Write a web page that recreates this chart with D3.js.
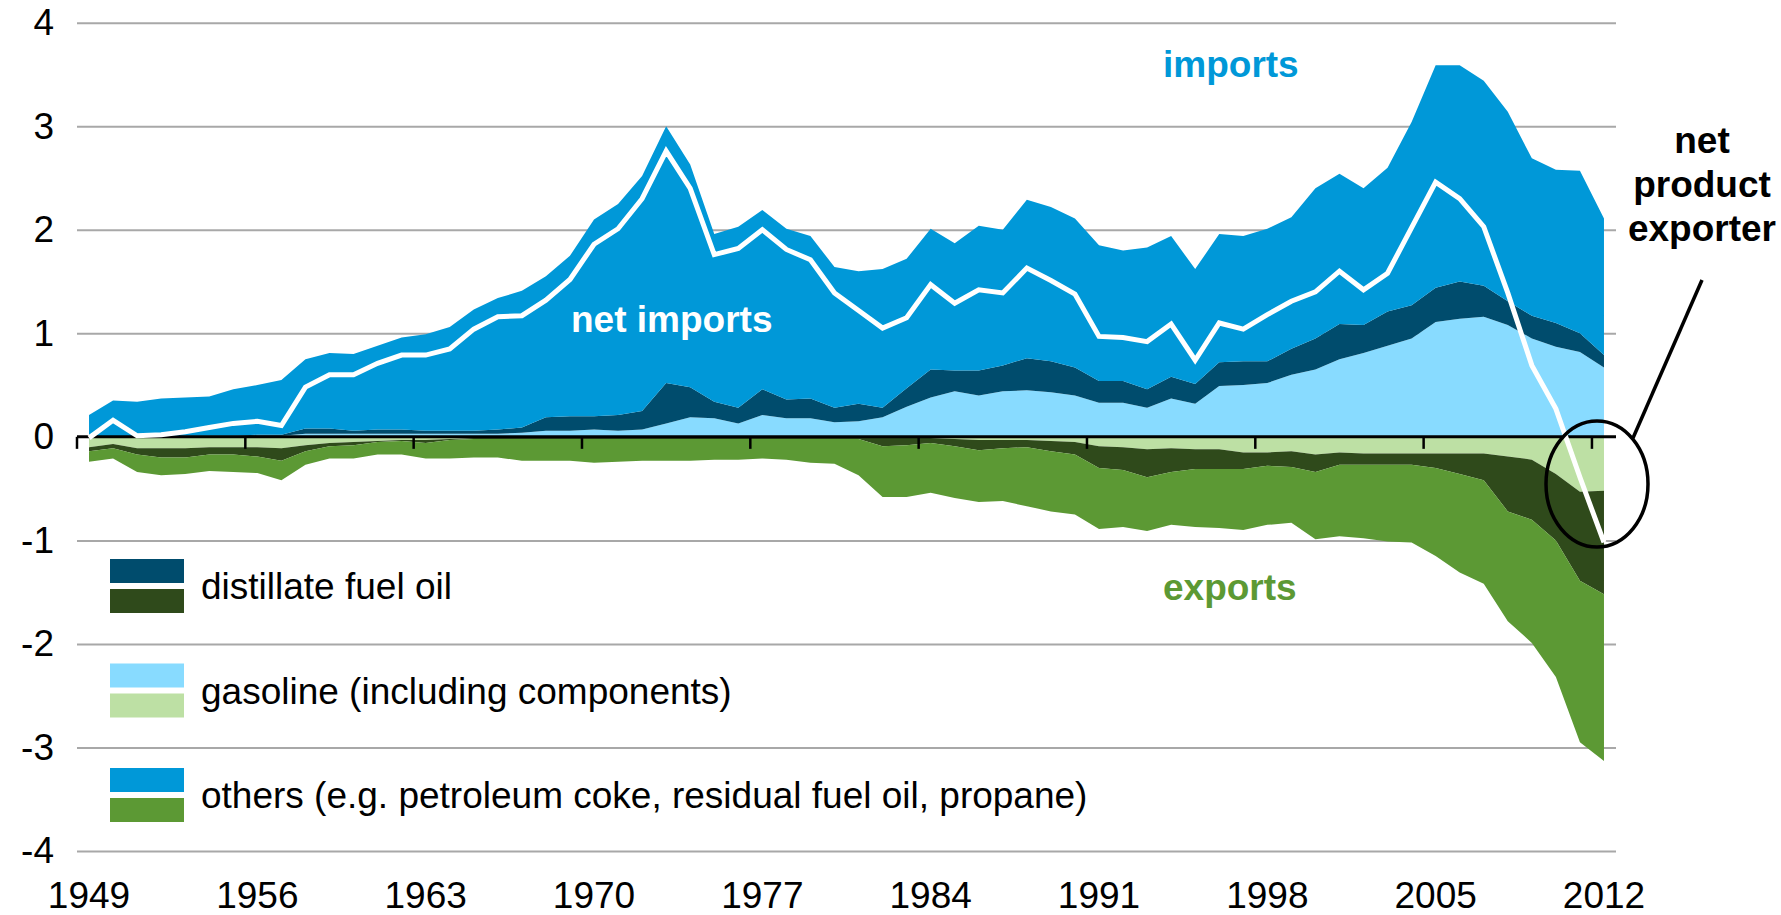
<!DOCTYPE html>
<meta charset="utf-8">
<style>
body { margin: 0; background: #fff; }
svg { display: block; font-family: "Liberation Sans", Arial, sans-serif; }

.grid line { stroke: #a8a8a8; stroke-width: 2px; }
.grid path, .axis path { display: none; }
.axis text { font-size: 37px; fill: #000; }

.net-line { fill: none; stroke: #fff; stroke-width: 5px; stroke-linejoin: miter; }
.note { font-size: 37px; font-weight: bold; }
.legend text { font-size: 37px; fill: #000; }
</style>
<svg width="1781" height="915"></svg>
<script src="https://d3js.org/d3.v7.min.js"></script>
<script>
// million barrels per day, 1949-2012
var years = d3.range(1949, 2013);
var labelYears = [1949, 1956, 1963, 1970, 1977, 1984, 1991, 1998, 2005, 2012];
var yTicks = [-4, -3, -2, -1, 0, 1, 2, 3, 4];

var gasolineImports = [0,0,0,0,0,0,0,0.01,0.01,0.03,0.03,0.03,0.03,0.03,0.03,0.03,0.03,0.03,0.04,0.06,0.06,
  0.07,0.06,0.07,0.13,0.19,0.18,0.13,0.21,0.18,0.18,0.14,0.15,0.19,0.29,0.38,0.44,0.40,0.44,0.45,0.43,0.40,
  0.33,0.33,0.28,0.37,0.32,0.49,0.50,0.52,0.60,0.65,0.75,0.81,0.88,0.95,1.11,1.14,1.16,1.08,0.95,0.87,0.82,0.67];
var distillateImports = [0,0,0,0,0.01,0.01,0.01,0.01,0.01,0.05,0.05,0.03,0.04,0.04,0.03,0.03,0.03,0.04,0.05,0.13,0.14,
  0.13,0.15,0.18,0.39,0.29,0.16,0.15,0.25,0.18,0.19,0.14,0.17,0.09,0.18,0.27,0.20,0.24,0.25,0.31,0.30,0.27,
  0.21,0.21,0.18,0.21,0.19,0.23,0.23,0.21,0.25,0.30,0.34,0.27,0.33,0.32,0.33,0.36,0.30,0.23,0.22,0.23,0.18,0.12];
var otherImports = [0.21,0.35,0.34,0.37,0.37,0.38,0.45,0.48,0.53,0.67,0.73,0.74,0.81,0.89,0.93,1.00,1.17,1.27,1.32,1.36,1.55,
  1.90,2.04,2.27,2.48,2.15,1.62,1.75,1.73,1.65,1.57,1.36,1.28,1.34,1.25,1.36,1.23,1.40,1.31,1.53,1.49,1.44,
  1.31,1.26,1.37,1.36,1.11,1.24,1.21,1.28,1.27,1.45,1.45,1.32,1.39,1.77,2.15,2.09,1.98,1.83,1.52,1.48,1.57,1.32];

var gasolineExports = [0.10,0.07,0.11,0.11,0.11,0.10,0.10,0.10,0.11,0.08,0.06,0.05,0.04,0.03,0.03,0.02,0.01,0.01,0.01,0.01,0.01,
  0.01,0.01,0.01,0.01,0.01,0.01,0.01,0.01,0.01,0.01,0.01,0.01,0.01,0.01,0.01,0.02,0.03,0.03,0.03,0.04,0.05,
  0.09,0.10,0.12,0.11,0.12,0.12,0.15,0.15,0.14,0.17,0.15,0.16,0.16,0.16,0.16,0.16,0.16,0.19,0.22,0.36,0.53,0.52];
var distillateExports = [0.04,0.04,0.06,0.09,0.09,0.07,0.07,0.09,0.12,0.06,0.03,0.03,0.01,0.01,0.03,0.01,0.01,0.01,0.01,0.01,0.01,
  0.01,0.01,0.01,0.01,0.01,0.01,0.01,0.01,0.01,0.01,0.01,0.01,0.08,0.07,0.05,0.07,0.10,0.08,0.07,0.10,0.12,
  0.21,0.22,0.27,0.23,0.19,0.19,0.16,0.13,0.15,0.17,0.12,0.11,0.11,0.11,0.14,0.20,0.26,0.53,0.58,0.64,0.86,1.00];
var otherExports = [0.10,0.10,0.17,0.17,0.16,0.16,0.17,0.16,0.19,0.13,0.12,0.13,0.12,0.13,0.15,0.18,0.18,0.18,0.21,0.21,0.21,
  0.23,0.22,0.21,0.21,0.21,0.20,0.20,0.19,0.20,0.23,0.24,0.35,0.49,0.50,0.48,0.50,0.50,0.51,0.57,0.58,0.58,
  0.59,0.55,0.52,0.51,0.56,0.57,0.59,0.57,0.54,0.65,0.69,0.71,0.74,0.75,0.85,0.95,1.00,1.06,1.19,1.32,1.56,1.61];

var netImports = [-0.01,0.16,0.01,0.02,0.05,0.09,0.13,0.15,0.11,0.48,0.60,0.60,0.71,0.79,0.79,0.85,1.04,1.16,1.17,1.32,1.52,
  1.86,2.01,2.30,2.76,2.40,1.76,1.82,2.00,1.81,1.71,1.39,1.22,1.05,1.15,1.47,1.29,1.42,1.39,1.63,1.51,1.38,
  0.97,0.96,0.92,1.09,0.74,1.10,1.04,1.18,1.31,1.40,1.60,1.42,1.58,2.02,2.46,2.30,2.03,1.39,0.69,0.27,-0.39,-1.02];

var colors = {
  gasImp: "#88dbff", distImp: "#004c6d", othImp: "#0098d8",
  gasExp: "#bde0a4", distExp: "#2f4a1b", othExp: "#5c9934"
};

var legendItems = [
  {label: "distillate fuel oil", keys: ["distImp", "distExp"]},
  {label: "gasoline (including components)", keys: ["gasImp", "gasExp"]},
  {label: "others (e.g. petroleum coke, residual fuel oil, propane)", keys: ["othImp", "othExp"]}
];

var svg = d3.select("svg"),
    left = 77, right = 1616;

var x = d3.scaleBand()
    .domain(years)
    .range([left, right])
    .padding(0);

var y = d3.scaleLinear()
    .domain([-4, 4])
    .range([851, 22.7]);

var cx = function(yr) { return x(yr) + x.bandwidth() / 2; };

var rows = years.map(function(yr, i) {
  return {
    year: yr,
    gasImp: gasolineImports[i], distImp: distillateImports[i], othImp: otherImports[i],
    gasExp: -gasolineExports[i], distExp: -distillateExports[i], othExp: -otherExports[i]
  };
});

var series = d3.stack()
    .keys(["gasImp", "gasExp", "distImp", "distExp", "othImp", "othExp"])
    .offset(d3.stackOffsetDiverging)(rows);

// gridlines
svg.append("g")
    .attr("class", "grid")
    .attr("transform", "translate(" + left + ",0)")
    .call(d3.axisLeft(y)
      .tickValues(yTicks.filter(function(v) { return v !== 0; }))
      .tickSize(-(right - left))
      .tickFormat(""));

// stacked areas
var area = d3.area()
    .x(function(d) { return cx(d.data.year); })
    .y0(function(d) { return y(d[0]); })
    .y1(function(d) { return y(d[1]); });

svg.append("g")
  .selectAll("path")
  .data(series)
  .join("path")
    .attr("fill", function(d) { return colors[d.key]; })
    .attr("d", area);

// zero axis + tick marks
svg.append("line")
    .attr("x1", left).attr("x2", right)
    .attr("y1", y(0)).attr("y2", y(0))
    .attr("stroke", "#000").attr("stroke-width", 3);

svg.append("g")
  .selectAll("line")
  .data(labelYears)
  .join("line")
    .attr("x1", function(d) { return x(d); })
    .attr("x2", function(d) { return x(d); })
    .attr("y1", y(0))
    .attr("y2", y(0) + 12)
    .attr("stroke", "#000")
    .attr("stroke-width", 2.5);

// net imports line
svg.append("path")
    .datum(netImports)
    .attr("class", "net-line")
    .attr("d", d3.line()
      .x(function(d, i) { return cx(years[i]); })
      .y(function(d) { return y(d); }));

// axes labels
svg.append("g")
    .attr("class", "axis")
    .attr("transform", "translate(" + left + ",0)")
    .call(d3.axisLeft(y)
      .tickValues(yTicks)
      .tickSize(0)
      .tickPadding(23)
      .tickFormat(function(d) { return String(d); }));

svg.append("g")
    .attr("class", "axis")
    .attr("transform", "translate(0," + y(-4) + ")")
    .call(d3.axisBottom(x)
      .tickValues(labelYears)
      .tickSize(0)
      .tickPadding(31));

// annotations
svg.append("text").attr("class", "note")
    .attr("x", 1163).attr("y", 77)
    .attr("fill", colors.othImp)
    .text("imports");

svg.append("text").attr("class", "note")
    .attr("x", 1163).attr("y", 600)
    .attr("fill", colors.othExp)
    .text("exports");

svg.append("text").attr("class", "note")
    .attr("x", 571).attr("y", 332)
    .attr("fill", "#fff")
    .text("net imports");

svg.append("text").attr("class", "note")
    .attr("text-anchor", "middle")
  .selectAll("tspan")
  .data(["net", "product", "exporter"])
  .join("tspan")
    .attr("x", 1702)
    .attr("y", function(d, i) { return 153 + i * 44; })
    .text(function(d) { return d; });

svg.append("line")
    .attr("x1", 1702).attr("y1", 280)
    .attr("x2", 1633).attr("y2", 438)
    .attr("stroke", "#000").attr("stroke-width", 3.5);

svg.append("ellipse")
    .attr("cx", 1597).attr("cy", 484)
    .attr("rx", 51).attr("ry", 63)
    .attr("fill", "none")
    .attr("stroke", "#000").attr("stroke-width", 3.5);

// legend
var legend = svg.append("g").attr("class", "legend");

var legendG = legend.selectAll("g")
  .data(legendItems)
  .join("g")
    .attr("transform", function(d, i) { return "translate(110," + (559 + i * 104.5) + ")"; });

legendG.selectAll("rect")
  .data(function(d) { return d.keys; })
  .join("rect")
    .attr("x", 0)
    .attr("y", function(d, i) { return i * 30; })
    .attr("width", 74)
    .attr("height", 24)
    .attr("fill", function(d) { return colors[d]; });

legendG.append("text")
    .attr("x", 91)
    .attr("y", 40)
    .text(function(d) { return d.label; });
</script>
